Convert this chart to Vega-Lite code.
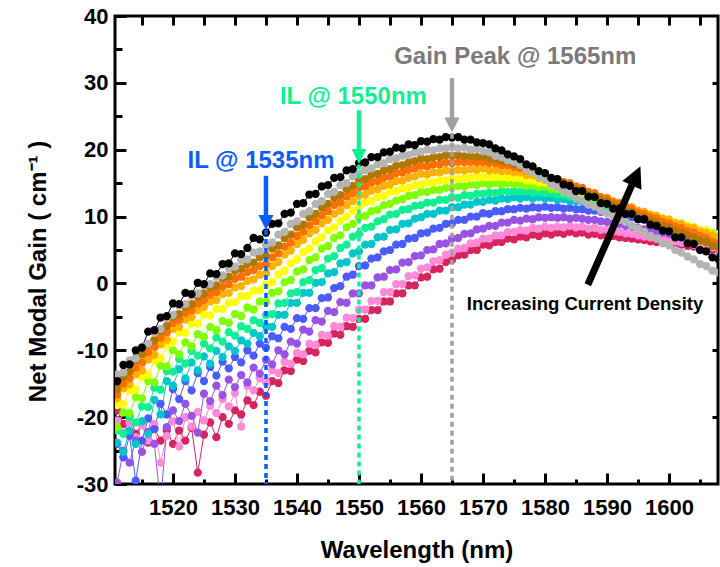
{
"$schema": "https://vega.github.io/schema/vega-lite/v6.json",
"width": 603, "height": 468,
"autosize": {"type": "none"},
"padding": {"left": 115, "top": 16, "right": 2, "bottom": 83},
"background": "white",
"config": {"view": {"stroke": "#000", "strokeWidth": 3}, "axis": {"grid": false, "domain": false}},
"data": {"values": [
{"s":0,"x":1511,"y":-19.0},{"s":0,"x":1512,"y":-21.0},{"s":0,"x":1513,"y":-19.8},{"s":0,"x":1514,"y":-22.5},{"s":0,"x":1515,"y":-21.0},{"s":0,"x":1516,"y":-23.8},{"s":0,"x":1517,"y":-21.6},{"s":0,"x":1518,"y":-23.5},{"s":0,"x":1519,"y":-22.0},{"s":0,"x":1520,"y":-24.0},
{"s":0,"x":1521,"y":-22.0},{"s":0,"x":1522,"y":-23.5},{"s":0,"x":1523,"y":-21.6},{"s":0,"x":1524,"y":-28.3},{"s":0,"x":1525,"y":-22.6},{"s":0,"x":1526,"y":-20.8},{"s":0,"x":1527,"y":-23.0},{"s":0,"x":1528,"y":-20.0},{"s":0,"x":1529,"y":-21.0},{"s":0,"x":1530,"y":-19.0},
{"s":0,"x":1531,"y":-19.6},{"s":0,"x":1532,"y":-17.5},{"s":0,"x":1533,"y":-18.2},{"s":0,"x":1534,"y":-16.2},{"s":0,"x":1535,"y":-16.8},{"s":0,"x":1536,"y":-14.6},{"s":0,"x":1537,"y":-14.9},{"s":0,"x":1538,"y":-13.0},{"s":0,"x":1539,"y":-13.1},{"s":0,"x":1540,"y":-11.4},
{"s":0,"x":1541,"y":-11.6},{"s":0,"x":1542,"y":-10.1},{"s":0,"x":1543,"y":-10.3},{"s":0,"x":1544,"y":-8.8},{"s":0,"x":1545,"y":-8.9},{"s":0,"x":1546,"y":-7.5},{"s":0,"x":1547,"y":-7.7},{"s":0,"x":1548,"y":-6.4},{"s":0,"x":1549,"y":-6.5},{"s":0,"x":1550,"y":-5.3},
{"s":0,"x":1551,"y":-5.3},{"s":0,"x":1552,"y":-4.0},{"s":0,"x":1553,"y":-4.0},{"s":0,"x":1554,"y":-2.7},{"s":0,"x":1555,"y":-2.7},{"s":0,"x":1556,"y":-1.5},{"s":0,"x":1557,"y":-1.5},{"s":0,"x":1558,"y":-0.3},{"s":0,"x":1559,"y":-0.3},{"s":0,"x":1560,"y":0.9},
{"s":0,"x":1561,"y":1.0},{"s":0,"x":1562,"y":2.1},{"s":0,"x":1563,"y":2.2},{"s":0,"x":1564,"y":3.2},{"s":0,"x":1565,"y":3.5},{"s":0,"x":1566,"y":4.2},{"s":0,"x":1567,"y":4.3},{"s":0,"x":1568,"y":5.0},{"s":0,"x":1569,"y":5.0},{"s":0,"x":1570,"y":5.8},
{"s":0,"x":1571,"y":5.7},{"s":0,"x":1572,"y":6.2},{"s":0,"x":1573,"y":6.2},{"s":0,"x":1574,"y":6.7},{"s":0,"x":1575,"y":6.6},{"s":0,"x":1576,"y":7.0},{"s":0,"x":1577,"y":6.9},{"s":0,"x":1578,"y":7.3},{"s":0,"x":1579,"y":7.1},{"s":0,"x":1580,"y":7.5},
{"s":0,"x":1581,"y":7.3},{"s":0,"x":1582,"y":7.6},{"s":0,"x":1583,"y":7.4},{"s":0,"x":1584,"y":7.7},{"s":0,"x":1585,"y":7.5},{"s":0,"x":1586,"y":7.6},{"s":0,"x":1587,"y":7.3},{"s":0,"x":1588,"y":7.4},{"s":0,"x":1589,"y":7.2},{"s":0,"x":1590,"y":7.2},
{"s":0,"x":1591,"y":7.1},{"s":0,"x":1592,"y":6.9},{"s":0,"x":1593,"y":6.8},{"s":0,"x":1594,"y":6.7},{"s":0,"x":1595,"y":6.6},{"s":0,"x":1596,"y":6.5},{"s":0,"x":1597,"y":6.3},{"s":0,"x":1598,"y":6.2},{"s":0,"x":1599,"y":6.1},{"s":0,"x":1600,"y":6.0},
{"s":0,"x":1601,"y":5.9},{"s":0,"x":1602,"y":5.8},{"s":0,"x":1603,"y":5.6},{"s":0,"x":1604,"y":5.5},{"s":0,"x":1605,"y":5.4},{"s":0,"x":1606,"y":5.3},{"s":0,"x":1607,"y":5.1},{"s":0,"x":1608,"y":5.0},
{"s":1,"x":1511,"y":-20.5},{"s":1,"x":1512,"y":-22.3},{"s":1,"x":1513,"y":-20.8},{"s":1,"x":1514,"y":-23.0},{"s":1,"x":1515,"y":-21.2},{"s":1,"x":1516,"y":-23.5},{"s":1,"x":1517,"y":-21.0},{"s":1,"x":1518,"y":-26.8},{"s":1,"x":1519,"y":-22.8},{"s":1,"x":1520,"y":-20.6},
{"s":1,"x":1521,"y":-24.4},{"s":1,"x":1522,"y":-20.0},{"s":1,"x":1523,"y":-21.4},{"s":1,"x":1524,"y":-19.2},{"s":1,"x":1525,"y":-20.5},{"s":1,"x":1526,"y":-18.3},{"s":1,"x":1527,"y":-19.4},{"s":1,"x":1528,"y":-17.3},{"s":1,"x":1529,"y":-18.4},{"s":1,"x":1530,"y":-16.4},
{"s":1,"x":1531,"y":-21.4},{"s":1,"x":1532,"y":-15.3},{"s":1,"x":1533,"y":-16.0},{"s":1,"x":1534,"y":-14.2},{"s":1,"x":1535,"y":-14.8},{"s":1,"x":1536,"y":-13.0},{"s":1,"x":1537,"y":-13.4},{"s":1,"x":1538,"y":-11.7},{"s":1,"x":1539,"y":-12.0},{"s":1,"x":1540,"y":-10.4},
{"s":1,"x":1541,"y":-10.6},{"s":1,"x":1542,"y":-9.0},{"s":1,"x":1543,"y":-9.2},{"s":1,"x":1544,"y":-7.7},{"s":1,"x":1545,"y":-7.8},{"s":1,"x":1546,"y":-6.4},{"s":1,"x":1547,"y":-6.5},{"s":1,"x":1548,"y":-5.1},{"s":1,"x":1549,"y":-5.2},{"s":1,"x":1550,"y":-3.9},
{"s":1,"x":1551,"y":-3.9},{"s":1,"x":1552,"y":-2.6},{"s":1,"x":1553,"y":-2.6},{"s":1,"x":1554,"y":-1.3},{"s":1,"x":1555,"y":-1.3},{"s":1,"x":1556,"y":-0.1},{"s":1,"x":1557,"y":-0.1},{"s":1,"x":1558,"y":1.1},{"s":1,"x":1559,"y":1.2},{"s":1,"x":1560,"y":2.2},
{"s":1,"x":1561,"y":2.4},{"s":1,"x":1562,"y":3.3},{"s":1,"x":1563,"y":3.5},{"s":1,"x":1564,"y":4.3},{"s":1,"x":1565,"y":4.6},{"s":1,"x":1566,"y":5.2},{"s":1,"x":1567,"y":5.3},{"s":1,"x":1568,"y":6.0},{"s":1,"x":1569,"y":6.1},{"s":1,"x":1570,"y":6.7},
{"s":1,"x":1571,"y":6.7},{"s":1,"x":1572,"y":7.2},{"s":1,"x":1573,"y":7.2},{"s":1,"x":1574,"y":7.7},{"s":1,"x":1575,"y":7.7},{"s":1,"x":1576,"y":8.0},{"s":1,"x":1577,"y":7.9},{"s":1,"x":1578,"y":8.3},{"s":1,"x":1579,"y":8.2},{"s":1,"x":1580,"y":8.5},
{"s":1,"x":1581,"y":8.3},{"s":1,"x":1582,"y":8.5},{"s":1,"x":1583,"y":8.4},{"s":1,"x":1584,"y":8.6},{"s":1,"x":1585,"y":8.4},{"s":1,"x":1586,"y":8.5},{"s":1,"x":1587,"y":8.2},{"s":1,"x":1588,"y":8.3},{"s":1,"x":1589,"y":8.0},{"s":1,"x":1590,"y":8.1},
{"s":1,"x":1591,"y":7.8},{"s":1,"x":1592,"y":7.7},{"s":1,"x":1593,"y":7.5},{"s":1,"x":1594,"y":7.4},{"s":1,"x":1595,"y":7.2},{"s":1,"x":1596,"y":7.0},{"s":1,"x":1597,"y":6.9},{"s":1,"x":1598,"y":6.7},{"s":1,"x":1599,"y":6.6},{"s":1,"x":1600,"y":6.4},
{"s":1,"x":1601,"y":6.3},{"s":1,"x":1602,"y":6.1},{"s":1,"x":1603,"y":6.0},{"s":1,"x":1604,"y":5.8},{"s":1,"x":1605,"y":5.7},{"s":1,"x":1606,"y":5.5},{"s":1,"x":1607,"y":5.4},{"s":1,"x":1608,"y":5.2},
{"s":2,"x":1511,"y":-29.8},{"s":2,"x":1512,"y":-25.0},{"s":2,"x":1513,"y":-26.8},{"s":2,"x":1514,"y":-23.5},{"s":2,"x":1515,"y":-25.2},{"s":2,"x":1516,"y":-22.2},{"s":2,"x":1517,"y":-24.0},{"s":2,"x":1518,"y":-33.0},{"s":2,"x":1519,"y":-21.5},{"s":2,"x":1520,"y":-19.0},
{"s":2,"x":1521,"y":-20.6},{"s":2,"x":1522,"y":-18.0},{"s":2,"x":1523,"y":-19.8},{"s":2,"x":1524,"y":-22.3},{"s":2,"x":1525,"y":-16.5},{"s":2,"x":1526,"y":-17.6},{"s":2,"x":1527,"y":-15.3},{"s":2,"x":1528,"y":-16.7},{"s":2,"x":1529,"y":-14.4},{"s":2,"x":1530,"y":-15.5},
{"s":2,"x":1531,"y":-13.7},{"s":2,"x":1532,"y":-14.8},{"s":2,"x":1533,"y":-12.6},{"s":2,"x":1534,"y":-13.5},{"s":2,"x":1535,"y":-11.4},{"s":2,"x":1536,"y":-12.1},{"s":2,"x":1537,"y":-10.0},{"s":2,"x":1538,"y":-10.6},{"s":2,"x":1539,"y":-8.7},{"s":2,"x":1540,"y":-9.0},
{"s":2,"x":1541,"y":-6.9},{"s":2,"x":1542,"y":-7.2},{"s":2,"x":1543,"y":-5.5},{"s":2,"x":1544,"y":-5.7},{"s":2,"x":1545,"y":-4.1},{"s":2,"x":1546,"y":-4.3},{"s":2,"x":1547,"y":-2.8},{"s":2,"x":1548,"y":-2.9},{"s":2,"x":1549,"y":-1.5},{"s":2,"x":1550,"y":-1.5},
{"s":2,"x":1551,"y":-0.3},{"s":2,"x":1552,"y":-0.3},{"s":2,"x":1553,"y":0.9},{"s":2,"x":1554,"y":1.0},{"s":2,"x":1555,"y":2.0},{"s":2,"x":1556,"y":2.1},{"s":2,"x":1557,"y":3.1},{"s":2,"x":1558,"y":3.2},{"s":2,"x":1559,"y":4.1},{"s":2,"x":1560,"y":4.2},
{"s":2,"x":1561,"y":5.0},{"s":2,"x":1562,"y":5.1},{"s":2,"x":1563,"y":5.9},{"s":2,"x":1564,"y":6.0},{"s":2,"x":1565,"y":6.7},{"s":2,"x":1566,"y":6.8},{"s":2,"x":1567,"y":7.4},{"s":2,"x":1568,"y":7.5},{"s":2,"x":1569,"y":8.1},{"s":2,"x":1570,"y":8.2},
{"s":2,"x":1571,"y":8.6},{"s":2,"x":1572,"y":8.6},{"s":2,"x":1573,"y":9.1},{"s":2,"x":1574,"y":9.1},{"s":2,"x":1575,"y":9.5},{"s":2,"x":1576,"y":9.4},{"s":2,"x":1577,"y":9.7},{"s":2,"x":1578,"y":9.6},{"s":2,"x":1579,"y":9.9},{"s":2,"x":1580,"y":9.8},
{"s":2,"x":1581,"y":9.9},{"s":2,"x":1582,"y":9.8},{"s":2,"x":1583,"y":9.9},{"s":2,"x":1584,"y":9.7},{"s":2,"x":1585,"y":9.8},{"s":2,"x":1586,"y":9.7},{"s":2,"x":1587,"y":9.5},{"s":2,"x":1588,"y":9.5},{"s":2,"x":1589,"y":9.3},{"s":2,"x":1590,"y":9.2},
{"s":2,"x":1591,"y":9.0},{"s":2,"x":1592,"y":8.9},{"s":2,"x":1593,"y":8.6},{"s":2,"x":1594,"y":8.5},{"s":2,"x":1595,"y":8.3},{"s":2,"x":1596,"y":8.1},{"s":2,"x":1597,"y":7.9},{"s":2,"x":1598,"y":7.8},{"s":2,"x":1599,"y":7.6},{"s":2,"x":1600,"y":7.4},
{"s":2,"x":1601,"y":7.2},{"s":2,"x":1602,"y":7.1},{"s":2,"x":1603,"y":6.9},{"s":2,"x":1604,"y":6.8},{"s":2,"x":1605,"y":6.6},{"s":2,"x":1606,"y":6.4},{"s":2,"x":1607,"y":6.3},{"s":2,"x":1608,"y":6.1},
{"s":3,"x":1511,"y":-24.0},{"s":3,"x":1512,"y":-26.0},{"s":3,"x":1513,"y":-22.8},{"s":3,"x":1514,"y":-29.5},{"s":3,"x":1515,"y":-23.5},{"s":3,"x":1516,"y":-20.2},{"s":3,"x":1517,"y":-21.8},{"s":3,"x":1518,"y":-18.0},{"s":3,"x":1519,"y":-19.6},{"s":3,"x":1520,"y":-15.8},
{"s":3,"x":1521,"y":-17.3},{"s":3,"x":1522,"y":-14.6},{"s":3,"x":1523,"y":-16.0},{"s":3,"x":1524,"y":-13.4},{"s":3,"x":1525,"y":-14.6},{"s":3,"x":1526,"y":-12.5},{"s":3,"x":1527,"y":-13.8},{"s":3,"x":1528,"y":-11.7},{"s":3,"x":1529,"y":-12.7},{"s":3,"x":1530,"y":-11.0},
{"s":3,"x":1531,"y":-11.8},{"s":3,"x":1532,"y":-10.0},{"s":3,"x":1533,"y":-10.8},{"s":3,"x":1534,"y":-9.0},{"s":3,"x":1535,"y":-9.6},{"s":3,"x":1536,"y":-7.9},{"s":3,"x":1537,"y":-8.2},{"s":3,"x":1538,"y":-6.5},{"s":3,"x":1539,"y":-6.8},{"s":3,"x":1540,"y":-5.2},
{"s":3,"x":1541,"y":-5.3},{"s":3,"x":1542,"y":-3.7},{"s":3,"x":1543,"y":-3.7},{"s":3,"x":1544,"y":-2.2},{"s":3,"x":1545,"y":-2.1},{"s":3,"x":1546,"y":-0.7},{"s":3,"x":1547,"y":-0.4},{"s":3,"x":1548,"y":1.0},{"s":3,"x":1549,"y":1.3},{"s":3,"x":1550,"y":2.6},
{"s":3,"x":1551,"y":2.7},{"s":3,"x":1552,"y":3.7},{"s":3,"x":1553,"y":3.9},{"s":3,"x":1554,"y":4.8},{"s":3,"x":1555,"y":5.0},{"s":3,"x":1556,"y":5.8},{"s":3,"x":1557,"y":5.9},{"s":3,"x":1558,"y":6.7},{"s":3,"x":1559,"y":6.8},{"s":3,"x":1560,"y":7.5},
{"s":3,"x":1561,"y":7.6},{"s":3,"x":1562,"y":8.2},{"s":3,"x":1563,"y":8.3},{"s":3,"x":1564,"y":8.9},{"s":3,"x":1565,"y":9.0},{"s":3,"x":1566,"y":9.5},{"s":3,"x":1567,"y":9.5},{"s":3,"x":1568,"y":10.0},{"s":3,"x":1569,"y":10.0},{"s":3,"x":1570,"y":10.5},
{"s":3,"x":1571,"y":10.4},{"s":3,"x":1572,"y":10.8},{"s":3,"x":1573,"y":10.8},{"s":3,"x":1574,"y":11.1},{"s":3,"x":1575,"y":11.1},{"s":3,"x":1576,"y":11.3},{"s":3,"x":1577,"y":11.2},{"s":3,"x":1578,"y":11.4},{"s":3,"x":1579,"y":11.3},{"s":3,"x":1580,"y":11.5},
{"s":3,"x":1581,"y":11.3},{"s":3,"x":1582,"y":11.4},{"s":3,"x":1583,"y":11.2},{"s":3,"x":1584,"y":11.3},{"s":3,"x":1585,"y":11.1},{"s":3,"x":1586,"y":11.1},{"s":3,"x":1587,"y":10.9},{"s":3,"x":1588,"y":10.9},{"s":3,"x":1589,"y":10.7},{"s":3,"x":1590,"y":10.6},
{"s":3,"x":1591,"y":10.4},{"s":3,"x":1592,"y":10.3},{"s":3,"x":1593,"y":10.0},{"s":3,"x":1594,"y":9.9},{"s":3,"x":1595,"y":9.7},{"s":3,"x":1596,"y":9.5},{"s":3,"x":1597,"y":9.3},{"s":3,"x":1598,"y":9.1},{"s":3,"x":1599,"y":8.9},{"s":3,"x":1600,"y":8.7},
{"s":3,"x":1601,"y":8.5},{"s":3,"x":1602,"y":8.3},{"s":3,"x":1603,"y":8.1},{"s":3,"x":1604,"y":7.9},{"s":3,"x":1605,"y":7.7},{"s":3,"x":1606,"y":7.5},{"s":3,"x":1607,"y":7.3},{"s":3,"x":1608,"y":7.1},
{"s":4,"x":1511,"y":-23.8},{"s":4,"x":1512,"y":-25.2},{"s":4,"x":1513,"y":-22.0},{"s":4,"x":1514,"y":-24.0},{"s":4,"x":1515,"y":-20.6},{"s":4,"x":1516,"y":-22.5},{"s":4,"x":1517,"y":-17.4},{"s":4,"x":1518,"y":-19.6},{"s":4,"x":1519,"y":-14.6},{"s":4,"x":1520,"y":-15.3},
{"s":4,"x":1521,"y":-12.8},{"s":4,"x":1522,"y":-14.2},{"s":4,"x":1523,"y":-11.8},{"s":4,"x":1524,"y":-13.0},{"s":4,"x":1525,"y":-10.9},{"s":4,"x":1526,"y":-12.0},{"s":4,"x":1527,"y":-10.1},{"s":4,"x":1528,"y":-11.0},{"s":4,"x":1529,"y":-9.4},{"s":4,"x":1530,"y":-10.1},
{"s":4,"x":1531,"y":-8.5},{"s":4,"x":1532,"y":-9.0},{"s":4,"x":1533,"y":-7.4},{"s":4,"x":1534,"y":-7.9},{"s":4,"x":1535,"y":-6.4},{"s":4,"x":1536,"y":-6.5},{"s":4,"x":1537,"y":-4.7},{"s":4,"x":1538,"y":-4.7},{"s":4,"x":1539,"y":-2.9},{"s":4,"x":1540,"y":-2.9},
{"s":4,"x":1541,"y":-1.4},{"s":4,"x":1542,"y":-1.4},{"s":4,"x":1543,"y":0.1},{"s":4,"x":1544,"y":0.2},{"s":4,"x":1545,"y":1.5},{"s":4,"x":1546,"y":1.7},{"s":4,"x":1547,"y":3.0},{"s":4,"x":1548,"y":3.2},{"s":4,"x":1549,"y":4.5},{"s":4,"x":1550,"y":4.8},
{"s":4,"x":1551,"y":5.8},{"s":4,"x":1552,"y":5.9},{"s":4,"x":1553,"y":6.9},{"s":4,"x":1554,"y":7.0},{"s":4,"x":1555,"y":8.0},{"s":4,"x":1556,"y":8.1},{"s":4,"x":1557,"y":8.9},{"s":4,"x":1558,"y":9.0},{"s":4,"x":1559,"y":9.7},{"s":4,"x":1560,"y":9.9},
{"s":4,"x":1561,"y":10.4},{"s":4,"x":1562,"y":10.4},{"s":4,"x":1563,"y":10.9},{"s":4,"x":1564,"y":10.9},{"s":4,"x":1565,"y":11.4},{"s":4,"x":1566,"y":11.4},{"s":4,"x":1567,"y":11.8},{"s":4,"x":1568,"y":11.8},{"s":4,"x":1569,"y":12.2},{"s":4,"x":1570,"y":12.2},
{"s":4,"x":1571,"y":12.5},{"s":4,"x":1572,"y":12.4},{"s":4,"x":1573,"y":12.7},{"s":4,"x":1574,"y":12.6},{"s":4,"x":1575,"y":12.9},{"s":4,"x":1576,"y":12.7},{"s":4,"x":1577,"y":12.9},{"s":4,"x":1578,"y":12.7},{"s":4,"x":1579,"y":12.9},{"s":4,"x":1580,"y":12.7},
{"s":4,"x":1581,"y":12.8},{"s":4,"x":1582,"y":12.5},{"s":4,"x":1583,"y":12.6},{"s":4,"x":1584,"y":12.3},{"s":4,"x":1585,"y":12.3},{"s":4,"x":1586,"y":12.2},{"s":4,"x":1587,"y":11.9},{"s":4,"x":1588,"y":11.9},{"s":4,"x":1589,"y":11.6},{"s":4,"x":1590,"y":11.5},
{"s":4,"x":1591,"y":11.3},{"s":4,"x":1592,"y":11.0},{"s":4,"x":1593,"y":10.9},{"s":4,"x":1594,"y":10.6},{"s":4,"x":1595,"y":10.4},{"s":4,"x":1596,"y":10.2},{"s":4,"x":1597,"y":9.9},{"s":4,"x":1598,"y":9.7},{"s":4,"x":1599,"y":9.4},{"s":4,"x":1600,"y":9.2},
{"s":4,"x":1601,"y":9.0},{"s":4,"x":1602,"y":8.7},{"s":4,"x":1603,"y":8.5},{"s":4,"x":1604,"y":8.2},{"s":4,"x":1605,"y":8.0},{"s":4,"x":1606,"y":7.8},{"s":4,"x":1607,"y":7.5},{"s":4,"x":1608,"y":7.3},
{"s":5,"x":1511,"y":-22.0},{"s":5,"x":1512,"y":-22.5},{"s":5,"x":1513,"y":-20.0},{"s":5,"x":1514,"y":-20.8},{"s":5,"x":1515,"y":-18.4},{"s":5,"x":1516,"y":-18.5},{"s":5,"x":1517,"y":-15.6},{"s":5,"x":1518,"y":-15.9},{"s":5,"x":1519,"y":-13.1},{"s":5,"x":1520,"y":-13.2},
{"s":5,"x":1521,"y":-11.3},{"s":5,"x":1522,"y":-12.0},{"s":5,"x":1523,"y":-10.1},{"s":5,"x":1524,"y":-10.8},{"s":5,"x":1525,"y":-9.0},{"s":5,"x":1526,"y":-9.7},{"s":5,"x":1527,"y":-8.1},{"s":5,"x":1528,"y":-8.7},{"s":5,"x":1529,"y":-7.3},{"s":5,"x":1530,"y":-7.8},
{"s":5,"x":1531,"y":-6.4},{"s":5,"x":1532,"y":-6.8},{"s":5,"x":1533,"y":-5.5},{"s":5,"x":1534,"y":-5.9},{"s":5,"x":1535,"y":-4.7},{"s":5,"x":1536,"y":-4.6},{"s":5,"x":1537,"y":-3.0},{"s":5,"x":1538,"y":-2.9},{"s":5,"x":1539,"y":-1.5},{"s":5,"x":1540,"y":-1.3},
{"s":5,"x":1541,"y":0.2},{"s":5,"x":1542,"y":0.5},{"s":5,"x":1543,"y":2.0},{"s":5,"x":1544,"y":2.3},{"s":5,"x":1545,"y":3.7},{"s":5,"x":1546,"y":4.1},{"s":5,"x":1547,"y":5.3},{"s":5,"x":1548,"y":5.8},{"s":5,"x":1549,"y":7.0},{"s":5,"x":1550,"y":7.4},
{"s":5,"x":1551,"y":8.3},{"s":5,"x":1552,"y":8.5},{"s":5,"x":1553,"y":9.3},{"s":5,"x":1554,"y":9.6},{"s":5,"x":1555,"y":10.3},{"s":5,"x":1556,"y":10.4},{"s":5,"x":1557,"y":11.0},{"s":5,"x":1558,"y":11.1},{"s":5,"x":1559,"y":11.6},{"s":5,"x":1560,"y":11.7},
{"s":5,"x":1561,"y":12.1},{"s":5,"x":1562,"y":12.1},{"s":5,"x":1563,"y":12.5},{"s":5,"x":1564,"y":12.5},{"s":5,"x":1565,"y":12.9},{"s":5,"x":1566,"y":12.8},{"s":5,"x":1567,"y":13.2},{"s":5,"x":1568,"y":13.1},{"s":5,"x":1569,"y":13.4},{"s":5,"x":1570,"y":13.4},
{"s":5,"x":1571,"y":13.6},{"s":5,"x":1572,"y":13.5},{"s":5,"x":1573,"y":13.8},{"s":5,"x":1574,"y":13.7},{"s":5,"x":1575,"y":13.8},{"s":5,"x":1576,"y":13.7},{"s":5,"x":1577,"y":13.8},{"s":5,"x":1578,"y":13.6},{"s":5,"x":1579,"y":13.7},{"s":5,"x":1580,"y":13.5},
{"s":5,"x":1581,"y":13.5},{"s":5,"x":1582,"y":13.3},{"s":5,"x":1583,"y":13.2},{"s":5,"x":1584,"y":13.0},{"s":5,"x":1585,"y":12.9},{"s":5,"x":1586,"y":12.7},{"s":5,"x":1587,"y":12.4},{"s":5,"x":1588,"y":12.3},{"s":5,"x":1589,"y":12.0},{"s":5,"x":1590,"y":11.8},
{"s":5,"x":1591,"y":11.5},{"s":5,"x":1592,"y":11.3},{"s":5,"x":1593,"y":11.0},{"s":5,"x":1594,"y":10.8},{"s":5,"x":1595,"y":10.5},{"s":5,"x":1596,"y":10.2},{"s":5,"x":1597,"y":10.0},{"s":5,"x":1598,"y":9.7},{"s":5,"x":1599,"y":9.5},{"s":5,"x":1600,"y":9.2},
{"s":5,"x":1601,"y":8.9},{"s":5,"x":1602,"y":8.7},{"s":5,"x":1603,"y":8.4},{"s":5,"x":1604,"y":8.2},{"s":5,"x":1605,"y":7.9},{"s":5,"x":1606,"y":7.6},{"s":5,"x":1607,"y":7.4},{"s":5,"x":1608,"y":7.1},
{"s":6,"x":1511,"y":-21.5},{"s":6,"x":1512,"y":-19.3},{"s":6,"x":1513,"y":-19.4},{"s":6,"x":1514,"y":-17.0},{"s":6,"x":1515,"y":-17.2},{"s":6,"x":1516,"y":-14.6},{"s":6,"x":1517,"y":-14.8},{"s":6,"x":1518,"y":-12.3},{"s":6,"x":1519,"y":-12.4},{"s":6,"x":1520,"y":-10.0},
{"s":6,"x":1521,"y":-10.6},{"s":6,"x":1522,"y":-8.8},{"s":6,"x":1523,"y":-9.4},{"s":6,"x":1524,"y":-7.6},{"s":6,"x":1525,"y":-8.0},{"s":6,"x":1526,"y":-6.5},{"s":6,"x":1527,"y":-7.0},{"s":6,"x":1528,"y":-5.6},{"s":6,"x":1529,"y":-5.9},{"s":6,"x":1530,"y":-4.6},
{"s":6,"x":1531,"y":-4.9},{"s":6,"x":1532,"y":-3.6},{"s":6,"x":1533,"y":-3.9},{"s":6,"x":1534,"y":-2.7},{"s":6,"x":1535,"y":-2.8},{"s":6,"x":1536,"y":-1.4},{"s":6,"x":1537,"y":-1.2},{"s":6,"x":1538,"y":0.2},{"s":6,"x":1539,"y":0.5},{"s":6,"x":1540,"y":1.8},
{"s":6,"x":1541,"y":2.1},{"s":6,"x":1542,"y":3.5},{"s":6,"x":1543,"y":3.9},{"s":6,"x":1544,"y":5.2},{"s":6,"x":1545,"y":5.6},{"s":6,"x":1546,"y":6.8},{"s":6,"x":1547,"y":7.2},{"s":6,"x":1548,"y":8.4},{"s":6,"x":1549,"y":8.9},{"s":6,"x":1550,"y":9.9},
{"s":6,"x":1551,"y":10.1},{"s":6,"x":1552,"y":10.8},{"s":6,"x":1553,"y":11.0},{"s":6,"x":1554,"y":11.7},{"s":6,"x":1555,"y":11.9},{"s":6,"x":1556,"y":12.4},{"s":6,"x":1557,"y":12.6},{"s":6,"x":1558,"y":13.1},{"s":6,"x":1559,"y":13.2},{"s":6,"x":1560,"y":13.7},
{"s":6,"x":1561,"y":13.7},{"s":6,"x":1562,"y":14.0},{"s":6,"x":1563,"y":14.0},{"s":6,"x":1564,"y":14.3},{"s":6,"x":1565,"y":14.3},{"s":6,"x":1566,"y":14.6},{"s":6,"x":1567,"y":14.5},{"s":6,"x":1568,"y":14.8},{"s":6,"x":1569,"y":14.7},{"s":6,"x":1570,"y":15.0},
{"s":6,"x":1571,"y":14.8},{"s":6,"x":1572,"y":15.0},{"s":6,"x":1573,"y":14.8},{"s":6,"x":1574,"y":15.0},{"s":6,"x":1575,"y":14.8},{"s":6,"x":1576,"y":14.9},{"s":6,"x":1577,"y":14.6},{"s":6,"x":1578,"y":14.7},{"s":6,"x":1579,"y":14.4},{"s":6,"x":1580,"y":14.5},
{"s":6,"x":1581,"y":14.1},{"s":6,"x":1582,"y":14.1},{"s":6,"x":1583,"y":13.7},{"s":6,"x":1584,"y":13.7},{"s":6,"x":1585,"y":13.3},{"s":6,"x":1586,"y":13.2},{"s":6,"x":1587,"y":12.9},{"s":6,"x":1588,"y":12.7},{"s":6,"x":1589,"y":12.4},{"s":6,"x":1590,"y":12.3},
{"s":6,"x":1591,"y":11.9},{"s":6,"x":1592,"y":11.7},{"s":6,"x":1593,"y":11.3},{"s":6,"x":1594,"y":11.1},{"s":6,"x":1595,"y":10.7},{"s":6,"x":1596,"y":10.6},{"s":6,"x":1597,"y":10.2},{"s":6,"x":1598,"y":10.0},{"s":6,"x":1599,"y":9.6},{"s":6,"x":1600,"y":9.5},
{"s":6,"x":1601,"y":9.1},{"s":6,"x":1602,"y":8.9},{"s":6,"x":1603,"y":8.6},{"s":6,"x":1604,"y":8.4},{"s":6,"x":1605,"y":8.0},{"s":6,"x":1606,"y":7.9},{"s":6,"x":1607,"y":7.5},{"s":6,"x":1608,"y":7.4},
{"s":7,"x":1511,"y":-18.2},{"s":7,"x":1512,"y":-18.0},{"s":7,"x":1513,"y":-16.0},{"s":7,"x":1514,"y":-15.9},{"s":7,"x":1515,"y":-14.0},{"s":7,"x":1516,"y":-13.7},{"s":7,"x":1517,"y":-11.6},{"s":7,"x":1518,"y":-11.2},{"s":7,"x":1519,"y":-9.3},{"s":7,"x":1520,"y":-8.7},
{"s":7,"x":1521,"y":-7.3},{"s":7,"x":1522,"y":-7.4},{"s":7,"x":1523,"y":-6.0},{"s":7,"x":1524,"y":-6.0},{"s":7,"x":1525,"y":-4.7},{"s":7,"x":1526,"y":-4.8},{"s":7,"x":1527,"y":-3.8},{"s":7,"x":1528,"y":-3.8},{"s":7,"x":1529,"y":-2.9},{"s":7,"x":1530,"y":-2.8},
{"s":7,"x":1531,"y":-1.9},{"s":7,"x":1532,"y":-1.9},{"s":7,"x":1533,"y":-1.1},{"s":7,"x":1534,"y":-1.0},{"s":7,"x":1535,"y":-0.2},{"s":7,"x":1536,"y":0.2},{"s":7,"x":1537,"y":1.4},{"s":7,"x":1538,"y":1.9},{"s":7,"x":1539,"y":3.0},{"s":7,"x":1540,"y":3.6},
{"s":7,"x":1541,"y":4.7},{"s":7,"x":1542,"y":5.2},{"s":7,"x":1543,"y":6.3},{"s":7,"x":1544,"y":6.9},{"s":7,"x":1545,"y":7.9},{"s":7,"x":1546,"y":8.4},{"s":7,"x":1547,"y":9.4},{"s":7,"x":1548,"y":10.0},{"s":7,"x":1549,"y":10.9},{"s":7,"x":1550,"y":11.5},
{"s":7,"x":1551,"y":12.1},{"s":7,"x":1552,"y":12.3},{"s":7,"x":1553,"y":12.9},{"s":7,"x":1554,"y":13.1},{"s":7,"x":1555,"y":13.7},{"s":7,"x":1556,"y":13.8},{"s":7,"x":1557,"y":14.2},{"s":7,"x":1558,"y":14.3},{"s":7,"x":1559,"y":14.7},{"s":7,"x":1560,"y":14.8},
{"s":7,"x":1561,"y":15.1},{"s":7,"x":1562,"y":15.1},{"s":7,"x":1563,"y":15.4},{"s":7,"x":1564,"y":15.4},{"s":7,"x":1565,"y":15.7},{"s":7,"x":1566,"y":15.6},{"s":7,"x":1567,"y":15.8},{"s":7,"x":1568,"y":15.8},{"s":7,"x":1569,"y":16.0},{"s":7,"x":1570,"y":15.9},
{"s":7,"x":1571,"y":16.0},{"s":7,"x":1572,"y":15.9},{"s":7,"x":1573,"y":15.9},{"s":7,"x":1574,"y":15.8},{"s":7,"x":1575,"y":15.8},{"s":7,"x":1576,"y":15.7},{"s":7,"x":1577,"y":15.4},{"s":7,"x":1578,"y":15.4},{"s":7,"x":1579,"y":15.1},{"s":7,"x":1580,"y":15.1},
{"s":7,"x":1581,"y":14.7},{"s":7,"x":1582,"y":14.6},{"s":7,"x":1583,"y":14.2},{"s":7,"x":1584,"y":14.1},{"s":7,"x":1585,"y":13.7},{"s":7,"x":1586,"y":13.6},{"s":7,"x":1587,"y":13.2},{"s":7,"x":1588,"y":13.0},{"s":7,"x":1589,"y":12.6},{"s":7,"x":1590,"y":12.5},
{"s":7,"x":1591,"y":12.0},{"s":7,"x":1592,"y":11.9},{"s":7,"x":1593,"y":11.4},{"s":7,"x":1594,"y":11.3},{"s":7,"x":1595,"y":10.8},{"s":7,"x":1596,"y":10.7},{"s":7,"x":1597,"y":10.3},{"s":7,"x":1598,"y":10.1},{"s":7,"x":1599,"y":9.7},{"s":7,"x":1600,"y":9.6},
{"s":7,"x":1601,"y":9.1},{"s":7,"x":1602,"y":9.0},{"s":7,"x":1603,"y":8.6},{"s":7,"x":1604,"y":8.4},{"s":7,"x":1605,"y":8.0},{"s":7,"x":1606,"y":7.9},{"s":7,"x":1607,"y":7.4},{"s":7,"x":1608,"y":7.3},
{"s":8,"x":1511,"y":-17.2},{"s":8,"x":1512,"y":-15.7},{"s":8,"x":1513,"y":-15.1},{"s":8,"x":1514,"y":-13.6},{"s":8,"x":1515,"y":-13.0},{"s":8,"x":1516,"y":-11.4},{"s":8,"x":1517,"y":-10.7},{"s":8,"x":1518,"y":-9.1},{"s":8,"x":1519,"y":-8.4},{"s":8,"x":1520,"y":-6.8},
{"s":8,"x":1521,"y":-6.5},{"s":8,"x":1522,"y":-5.4},{"s":8,"x":1523,"y":-5.0},{"s":8,"x":1524,"y":-4.0},{"s":8,"x":1525,"y":-3.5},{"s":8,"x":1526,"y":-2.7},{"s":8,"x":1527,"y":-2.5},{"s":8,"x":1528,"y":-1.6},{"s":8,"x":1529,"y":-1.4},{"s":8,"x":1530,"y":-0.6},
{"s":8,"x":1531,"y":-0.4},{"s":8,"x":1532,"y":0.4},{"s":8,"x":1533,"y":0.6},{"s":8,"x":1534,"y":1.3},{"s":8,"x":1535,"y":1.5},{"s":8,"x":1536,"y":2.6},{"s":8,"x":1537,"y":3.2},{"s":8,"x":1538,"y":4.3},{"s":8,"x":1539,"y":4.9},{"s":8,"x":1540,"y":5.9},
{"s":8,"x":1541,"y":6.5},{"s":8,"x":1542,"y":7.5},{"s":8,"x":1543,"y":8.0},{"s":8,"x":1544,"y":9.0},{"s":8,"x":1545,"y":9.5},{"s":8,"x":1546,"y":10.4},{"s":8,"x":1547,"y":10.9},{"s":8,"x":1548,"y":11.7},{"s":8,"x":1549,"y":12.3},{"s":8,"x":1550,"y":13.1},
{"s":8,"x":1551,"y":13.3},{"s":8,"x":1552,"y":13.9},{"s":8,"x":1553,"y":14.1},{"s":8,"x":1554,"y":14.6},{"s":8,"x":1555,"y":14.8},{"s":8,"x":1556,"y":15.3},{"s":8,"x":1557,"y":15.4},{"s":8,"x":1558,"y":15.8},{"s":8,"x":1559,"y":16.0},{"s":8,"x":1560,"y":16.4},
{"s":8,"x":1561,"y":16.3},{"s":8,"x":1562,"y":16.6},{"s":8,"x":1563,"y":16.6},{"s":8,"x":1564,"y":16.9},{"s":8,"x":1565,"y":16.8},{"s":8,"x":1566,"y":17.0},{"s":8,"x":1567,"y":16.9},{"s":8,"x":1568,"y":17.1},{"s":8,"x":1569,"y":17.0},{"s":8,"x":1570,"y":17.2},
{"s":8,"x":1571,"y":16.9},{"s":8,"x":1572,"y":17.0},{"s":8,"x":1573,"y":16.8},{"s":8,"x":1574,"y":16.8},{"s":8,"x":1575,"y":16.6},{"s":8,"x":1576,"y":16.6},{"s":8,"x":1577,"y":16.2},{"s":8,"x":1578,"y":16.2},{"s":8,"x":1579,"y":15.8},{"s":8,"x":1580,"y":15.8},
{"s":8,"x":1581,"y":15.3},{"s":8,"x":1582,"y":15.2},{"s":8,"x":1583,"y":14.8},{"s":8,"x":1584,"y":14.6},{"s":8,"x":1585,"y":14.2},{"s":8,"x":1586,"y":14.0},{"s":8,"x":1587,"y":13.6},{"s":8,"x":1588,"y":13.4},{"s":8,"x":1589,"y":12.9},{"s":8,"x":1590,"y":12.8},
{"s":8,"x":1591,"y":12.3},{"s":8,"x":1592,"y":12.1},{"s":8,"x":1593,"y":11.6},{"s":8,"x":1594,"y":11.4},{"s":8,"x":1595,"y":10.9},{"s":8,"x":1596,"y":10.7},{"s":8,"x":1597,"y":10.3},{"s":8,"x":1598,"y":10.1},{"s":8,"x":1599,"y":9.7},{"s":8,"x":1600,"y":9.5},
{"s":8,"x":1601,"y":9.0},{"s":8,"x":1602,"y":8.9},{"s":8,"x":1603,"y":8.4},{"s":8,"x":1604,"y":8.3},{"s":8,"x":1605,"y":7.8},{"s":8,"x":1606,"y":7.6},{"s":8,"x":1607,"y":7.2},{"s":8,"x":1608,"y":7.0},
{"s":9,"x":1511,"y":-16.6},{"s":9,"x":1512,"y":-15.0},{"s":9,"x":1513,"y":-14.2},{"s":9,"x":1514,"y":-12.6},{"s":9,"x":1515,"y":-11.8},{"s":9,"x":1516,"y":-10.3},{"s":9,"x":1517,"y":-9.5},{"s":9,"x":1518,"y":-8.1},{"s":9,"x":1519,"y":-7.3},{"s":9,"x":1520,"y":-5.9},
{"s":9,"x":1521,"y":-5.4},{"s":9,"x":1522,"y":-4.4},{"s":9,"x":1523,"y":-4.0},{"s":9,"x":1524,"y":-3.0},{"s":9,"x":1525,"y":-2.5},{"s":9,"x":1526,"y":-1.7},{"s":9,"x":1527,"y":-1.3},{"s":9,"x":1528,"y":-0.5},{"s":9,"x":1529,"y":-0.1},{"s":9,"x":1530,"y":0.7},
{"s":9,"x":1531,"y":1.0},{"s":9,"x":1532,"y":1.7},{"s":9,"x":1533,"y":2.0},{"s":9,"x":1534,"y":2.6},{"s":9,"x":1535,"y":2.9},{"s":9,"x":1536,"y":3.9},{"s":9,"x":1537,"y":4.5},{"s":9,"x":1538,"y":5.5},{"s":9,"x":1539,"y":6.1},{"s":9,"x":1540,"y":7.1},
{"s":9,"x":1541,"y":7.7},{"s":9,"x":1542,"y":8.7},{"s":9,"x":1543,"y":9.3},{"s":9,"x":1544,"y":10.2},{"s":9,"x":1545,"y":10.8},{"s":9,"x":1546,"y":11.7},{"s":9,"x":1547,"y":12.1},{"s":9,"x":1548,"y":13.0},{"s":9,"x":1549,"y":13.5},{"s":9,"x":1550,"y":14.3},
{"s":9,"x":1551,"y":14.5},{"s":9,"x":1552,"y":15.1},{"s":9,"x":1553,"y":15.3},{"s":9,"x":1554,"y":15.8},{"s":9,"x":1555,"y":16.0},{"s":9,"x":1556,"y":16.5},{"s":9,"x":1557,"y":16.6},{"s":9,"x":1558,"y":17.0},{"s":9,"x":1559,"y":17.2},{"s":9,"x":1560,"y":17.6},
{"s":9,"x":1561,"y":17.5},{"s":9,"x":1562,"y":17.8},{"s":9,"x":1563,"y":17.8},{"s":9,"x":1564,"y":18.1},{"s":9,"x":1565,"y":18.0},{"s":9,"x":1566,"y":18.2},{"s":9,"x":1567,"y":18.1},{"s":9,"x":1568,"y":18.2},{"s":9,"x":1569,"y":18.1},{"s":9,"x":1570,"y":18.2},
{"s":9,"x":1571,"y":18.0},{"s":9,"x":1572,"y":18.0},{"s":9,"x":1573,"y":17.7},{"s":9,"x":1574,"y":17.7},{"s":9,"x":1575,"y":17.4},{"s":9,"x":1576,"y":17.3},{"s":9,"x":1577,"y":16.9},{"s":9,"x":1578,"y":16.8},{"s":9,"x":1579,"y":16.4},{"s":9,"x":1580,"y":16.3},
{"s":9,"x":1581,"y":15.8},{"s":9,"x":1582,"y":15.6},{"s":9,"x":1583,"y":15.2},{"s":9,"x":1584,"y":15.0},{"s":9,"x":1585,"y":14.5},{"s":9,"x":1586,"y":14.3},{"s":9,"x":1587,"y":13.7},{"s":9,"x":1588,"y":13.5},{"s":9,"x":1589,"y":12.9},{"s":9,"x":1590,"y":12.7},
{"s":9,"x":1591,"y":12.1},{"s":9,"x":1592,"y":11.9},{"s":9,"x":1593,"y":11.4},{"s":9,"x":1594,"y":11.2},{"s":9,"x":1595,"y":10.6},{"s":9,"x":1596,"y":10.4},{"s":9,"x":1597,"y":9.9},{"s":9,"x":1598,"y":9.7},{"s":9,"x":1599,"y":9.2},{"s":9,"x":1600,"y":9.0},
{"s":9,"x":1601,"y":8.5},{"s":9,"x":1602,"y":8.3},{"s":9,"x":1603,"y":7.8},{"s":9,"x":1604,"y":7.6},{"s":9,"x":1605,"y":7.1},{"s":9,"x":1606,"y":6.8},{"s":9,"x":1607,"y":6.2},{"s":9,"x":1608,"y":5.9},
{"s":10,"x":1511,"y":-15.8},{"s":10,"x":1512,"y":-14.0},{"s":10,"x":1513,"y":-13.2},{"s":10,"x":1514,"y":-11.5},{"s":10,"x":1515,"y":-10.6},{"s":10,"x":1516,"y":-9.2},{"s":10,"x":1517,"y":-8.5},{"s":10,"x":1518,"y":-7.1},{"s":10,"x":1519,"y":-6.4},{"s":10,"x":1520,"y":-5.0},
{"s":10,"x":1521,"y":-4.6},{"s":10,"x":1522,"y":-3.5},{"s":10,"x":1523,"y":-3.1},{"s":10,"x":1524,"y":-2.0},{"s":10,"x":1525,"y":-1.5},{"s":10,"x":1526,"y":-0.6},{"s":10,"x":1527,"y":-0.3},{"s":10,"x":1528,"y":0.7},{"s":10,"x":1529,"y":1.0},{"s":10,"x":1530,"y":1.9},
{"s":10,"x":1531,"y":2.2},{"s":10,"x":1532,"y":2.9},{"s":10,"x":1533,"y":3.1},{"s":10,"x":1534,"y":3.9},{"s":10,"x":1535,"y":4.1},{"s":10,"x":1536,"y":5.2},{"s":10,"x":1537,"y":5.7},{"s":10,"x":1538,"y":6.8},{"s":10,"x":1539,"y":7.3},{"s":10,"x":1540,"y":8.4},
{"s":10,"x":1541,"y":8.8},{"s":10,"x":1542,"y":9.9},{"s":10,"x":1543,"y":10.4},{"s":10,"x":1544,"y":11.4},{"s":10,"x":1545,"y":11.9},{"s":10,"x":1546,"y":12.8},{"s":10,"x":1547,"y":13.2},{"s":10,"x":1548,"y":14.1},{"s":10,"x":1549,"y":14.6},{"s":10,"x":1550,"y":15.4},
{"s":10,"x":1551,"y":15.6},{"s":10,"x":1552,"y":16.2},{"s":10,"x":1553,"y":16.4},{"s":10,"x":1554,"y":16.9},{"s":10,"x":1555,"y":17.1},{"s":10,"x":1556,"y":17.6},{"s":10,"x":1557,"y":17.7},{"s":10,"x":1558,"y":18.1},{"s":10,"x":1559,"y":18.3},{"s":10,"x":1560,"y":18.7},
{"s":10,"x":1561,"y":18.6},{"s":10,"x":1562,"y":18.9},{"s":10,"x":1563,"y":18.9},{"s":10,"x":1564,"y":19.2},{"s":10,"x":1565,"y":19.1},{"s":10,"x":1566,"y":19.2},{"s":10,"x":1567,"y":19.0},{"s":10,"x":1568,"y":19.1},{"s":10,"x":1569,"y":18.9},{"s":10,"x":1570,"y":19.0},
{"s":10,"x":1571,"y":18.7},{"s":10,"x":1572,"y":18.6},{"s":10,"x":1573,"y":18.3},{"s":10,"x":1574,"y":18.2},{"s":10,"x":1575,"y":17.8},{"s":10,"x":1576,"y":17.6},{"s":10,"x":1577,"y":17.1},{"s":10,"x":1578,"y":16.9},{"s":10,"x":1579,"y":16.5},{"s":10,"x":1580,"y":16.3},
{"s":10,"x":1581,"y":15.7},{"s":10,"x":1582,"y":15.5},{"s":10,"x":1583,"y":14.9},{"s":10,"x":1584,"y":14.7},{"s":10,"x":1585,"y":14.1},{"s":10,"x":1586,"y":13.9},{"s":10,"x":1587,"y":13.3},{"s":10,"x":1588,"y":13.1},{"s":10,"x":1589,"y":12.5},{"s":10,"x":1590,"y":12.3},
{"s":10,"x":1591,"y":11.7},{"s":10,"x":1592,"y":11.5},{"s":10,"x":1593,"y":10.9},{"s":10,"x":1594,"y":10.7},{"s":10,"x":1595,"y":10.1},{"s":10,"x":1596,"y":9.9},{"s":10,"x":1597,"y":9.4},{"s":10,"x":1598,"y":9.1},{"s":10,"x":1599,"y":8.6},{"s":10,"x":1600,"y":8.4},
{"s":10,"x":1601,"y":7.9},{"s":10,"x":1602,"y":7.6},{"s":10,"x":1603,"y":7.2},{"s":10,"x":1604,"y":6.9},{"s":10,"x":1605,"y":6.4},{"s":10,"x":1606,"y":6.2},{"s":10,"x":1607,"y":5.6},{"s":10,"x":1608,"y":5.4},
{"s":11,"x":1511,"y":-13.6},{"s":11,"x":1512,"y":-13.3},{"s":11,"x":1513,"y":-11.5},{"s":11,"x":1514,"y":-11.2},{"s":11,"x":1515,"y":-9.5},{"s":11,"x":1516,"y":-9.0},{"s":11,"x":1517,"y":-7.3},{"s":11,"x":1518,"y":-6.8},{"s":11,"x":1519,"y":-5.2},{"s":11,"x":1520,"y":-4.7},
{"s":11,"x":1521,"y":-3.3},{"s":11,"x":1522,"y":-3.1},{"s":11,"x":1523,"y":-1.8},{"s":11,"x":1524,"y":-1.5},{"s":11,"x":1525,"y":-0.3},{"s":11,"x":1526,"y":-0.1},{"s":11,"x":1527,"y":1.0},{"s":11,"x":1528,"y":1.2},{"s":11,"x":1529,"y":2.3},{"s":11,"x":1530,"y":2.5},
{"s":11,"x":1531,"y":3.5},{"s":11,"x":1532,"y":3.6},{"s":11,"x":1533,"y":4.6},{"s":11,"x":1534,"y":4.8},{"s":11,"x":1535,"y":5.7},{"s":11,"x":1536,"y":6.1},{"s":11,"x":1537,"y":7.3},{"s":11,"x":1538,"y":7.7},{"s":11,"x":1539,"y":8.9},{"s":11,"x":1540,"y":9.3},
{"s":11,"x":1541,"y":10.4},{"s":11,"x":1542,"y":10.8},{"s":11,"x":1543,"y":11.9},{"s":11,"x":1544,"y":12.3},{"s":11,"x":1545,"y":13.4},{"s":11,"x":1546,"y":13.7},{"s":11,"x":1547,"y":14.7},{"s":11,"x":1548,"y":15.0},{"s":11,"x":1549,"y":16.0},{"s":11,"x":1550,"y":16.4},
{"s":11,"x":1551,"y":17.0},{"s":11,"x":1552,"y":17.2},{"s":11,"x":1553,"y":17.8},{"s":11,"x":1554,"y":18.0},{"s":11,"x":1555,"y":18.6},{"s":11,"x":1556,"y":18.7},{"s":11,"x":1557,"y":19.1},{"s":11,"x":1558,"y":19.2},{"s":11,"x":1559,"y":19.6},{"s":11,"x":1560,"y":19.7},
{"s":11,"x":1561,"y":20.0},{"s":11,"x":1562,"y":19.9},{"s":11,"x":1563,"y":20.2},{"s":11,"x":1564,"y":20.2},{"s":11,"x":1565,"y":20.4},{"s":11,"x":1566,"y":20.2},{"s":11,"x":1567,"y":20.3},{"s":11,"x":1568,"y":20.0},{"s":11,"x":1569,"y":20.1},{"s":11,"x":1570,"y":19.8},
{"s":11,"x":1571,"y":19.6},{"s":11,"x":1572,"y":19.1},{"s":11,"x":1573,"y":18.9},{"s":11,"x":1574,"y":18.4},{"s":11,"x":1575,"y":18.2},{"s":11,"x":1576,"y":17.7},{"s":11,"x":1577,"y":17.0},{"s":11,"x":1578,"y":16.6},{"s":11,"x":1579,"y":15.9},{"s":11,"x":1580,"y":15.5},
{"s":11,"x":1581,"y":14.8},{"s":11,"x":1582,"y":14.4},{"s":11,"x":1583,"y":13.8},{"s":11,"x":1584,"y":13.4},{"s":11,"x":1585,"y":12.7},{"s":11,"x":1586,"y":12.4},{"s":11,"x":1587,"y":11.8},{"s":11,"x":1588,"y":11.5},{"s":11,"x":1589,"y":10.9},{"s":11,"x":1590,"y":10.5},
{"s":11,"x":1591,"y":10.1},{"s":11,"x":1592,"y":9.5},{"s":11,"x":1593,"y":9.2},{"s":11,"x":1594,"y":8.6},{"s":11,"x":1595,"y":8.2},{"s":11,"x":1596,"y":7.7},{"s":11,"x":1597,"y":7.1},{"s":11,"x":1598,"y":6.7},{"s":11,"x":1599,"y":6.0},{"s":11,"x":1600,"y":5.7},
{"s":11,"x":1601,"y":5.0},{"s":11,"x":1602,"y":4.6},{"s":11,"x":1603,"y":4.0},{"s":11,"x":1604,"y":3.6},{"s":11,"x":1605,"y":2.9},{"s":11,"x":1606,"y":2.6},{"s":11,"x":1607,"y":1.9},{"s":11,"x":1608,"y":1.6},
{"s":12,"x":1511,"y":-14.6},{"s":12,"x":1512,"y":-12.2},{"s":12,"x":1513,"y":-12.1},{"s":12,"x":1514,"y":-10.0},{"s":12,"x":1515,"y":-9.6},{"s":12,"x":1516,"y":-7.2},{"s":12,"x":1517,"y":-7.0},{"s":12,"x":1518,"y":-5.1},{"s":12,"x":1519,"y":-4.9},{"s":12,"x":1520,"y":-3.0},
{"s":12,"x":1521,"y":-3.1},{"s":12,"x":1522,"y":-1.4},{"s":12,"x":1523,"y":-1.6},{"s":12,"x":1524,"y":0.1},{"s":12,"x":1525,"y":-0.1},{"s":12,"x":1526,"y":1.5},{"s":12,"x":1527,"y":1.4},{"s":12,"x":1528,"y":2.9},{"s":12,"x":1529,"y":3.0},{"s":12,"x":1530,"y":4.5},
{"s":12,"x":1531,"y":4.4},{"s":12,"x":1532,"y":5.3},{"s":12,"x":1533,"y":6.8},{"s":12,"x":1534,"y":6.6},{"s":12,"x":1535,"y":7.6},{"s":12,"x":1536,"y":8.9},{"s":12,"x":1537,"y":9.0},{"s":12,"x":1538,"y":10.4},{"s":12,"x":1539,"y":10.6},{"s":12,"x":1540,"y":11.9},
{"s":12,"x":1541,"y":12.0},{"s":12,"x":1542,"y":13.3},{"s":12,"x":1543,"y":13.4},{"s":12,"x":1544,"y":14.5},{"s":12,"x":1545,"y":14.7},{"s":12,"x":1546,"y":15.8},{"s":12,"x":1547,"y":15.9},{"s":12,"x":1548,"y":16.9},{"s":12,"x":1549,"y":17.1},{"s":12,"x":1550,"y":18.0},
{"s":12,"x":1551,"y":18.1},{"s":12,"x":1552,"y":18.9},{"s":12,"x":1553,"y":18.9},{"s":12,"x":1554,"y":19.6},{"s":12,"x":1555,"y":19.7},{"s":12,"x":1556,"y":20.3},{"s":12,"x":1557,"y":20.2},{"s":12,"x":1558,"y":20.8},{"s":12,"x":1559,"y":20.7},{"s":12,"x":1560,"y":21.3},
{"s":12,"x":1561,"y":21.2},{"s":12,"x":1562,"y":21.6},{"s":12,"x":1563,"y":21.5},{"s":12,"x":1564,"y":21.9},{"s":12,"x":1565,"y":21.8},{"s":12,"x":1566,"y":21.9},{"s":12,"x":1567,"y":21.5},{"s":12,"x":1568,"y":21.5},{"s":12,"x":1569,"y":21.1},{"s":12,"x":1570,"y":21.0},
{"s":12,"x":1571,"y":20.8},{"s":12,"x":1572,"y":20.2},{"s":12,"x":1573,"y":19.9},{"s":12,"x":1574,"y":19.3},{"s":12,"x":1575,"y":19.0},{"s":12,"x":1576,"y":18.6},{"s":12,"x":1577,"y":17.8},{"s":12,"x":1578,"y":17.5},{"s":12,"x":1579,"y":16.8},{"s":12,"x":1580,"y":16.5},
{"s":12,"x":1581,"y":15.8},{"s":12,"x":1582,"y":15.6},{"s":12,"x":1583,"y":14.8},{"s":12,"x":1584,"y":14.6},{"s":12,"x":1585,"y":13.8},{"s":12,"x":1586,"y":13.8},{"s":12,"x":1587,"y":13.0},{"s":12,"x":1588,"y":12.9},{"s":12,"x":1589,"y":12.0},{"s":12,"x":1590,"y":11.9},
{"s":12,"x":1591,"y":11.2},{"s":12,"x":1592,"y":11.2},{"s":12,"x":1593,"y":10.4},{"s":12,"x":1594,"y":10.4},{"s":12,"x":1595,"y":9.6},{"s":12,"x":1596,"y":9.6},{"s":12,"x":1597,"y":8.8},{"s":12,"x":1598,"y":8.6},{"s":12,"x":1599,"y":7.9},{"s":12,"x":1600,"y":7.8},
{"s":12,"x":1601,"y":6.9},{"s":12,"x":1602,"y":6.9},{"s":12,"x":1603,"y":6.0},{"s":12,"x":1604,"y":5.9},{"s":12,"x":1605,"y":5.0},{"s":12,"x":1606,"y":4.8},{"s":12,"x":1607,"y":3.9},{"s":12,"x":1608,"y":3.6}
]},
"layer": [
{
"mark": {"type": "line", "strokeWidth": 1, "clip": true},
"encoding": {
"x": {"field": "x", "type": "quantitative", "scale": {"domain": [1510.65, 1607.9], "nice": false, "zero": false},
"axis": {"orient": "bottom", "values": [1515,1520,1525,1530,1535,1540,1545,1550,1555,1560,1565,1570,1575,1580,1585,1590,1595,1600,1605],
"title": "Wavelength (nm)",
"tickSize": {"condition": {"test": "datum.value % 10 === 0", "value": -11}, "value": -5},
"tickWidth": 3, "tickColor": "#000",
"labelExpr": "datum.value % 10 === 0 ? '' + datum.value : ''",
"labelFont": "Liberation Sans", "labelFontSize": 22, "labelFontWeight": "bold", "labelColor": "#000",
"labelPadding": 41, "labelBaseline": "alphabetic", "labelFlush": false, "labelOverlap": false,
"titleFont": "Liberation Sans", "titleFontSize": 24, "titleFontWeight": "bold", "titleColor": "#000",
"titleBaseline": "alphabetic", "titleY": 73}},
"y": {"field": "y", "type": "quantitative", "scale": {"domain": [-30, 40], "nice": false, "zero": false},
"axis": {"orient": "left", "values": [-30,-25,-20,-15,-10,-5,0,5,10,15,20,25,30,35,40],
"title": "Net Modal Gain ( cm⁻¹ )",
"tickSize": {"condition": {"test": "datum.value % 10 === 0", "value": -11}, "value": -7},
"tickWidth": 3, "tickColor": "#000",
"labelExpr": "datum.value % 10 === 0 ? '' + datum.value : ''",
"labelFont": "Liberation Sans", "labelFontSize": 22, "labelFontWeight": "bold", "labelColor": "#000",
"labelPadding": 18, "labelBaseline": "middle", "labelAlign": "right", "labelFlush": false, "labelOverlap": false,
"titleFont": "Liberation Sans", "titleFontSize": 24, "titleFontWeight": "bold", "titleColor": "#000",
"titleAngle": 270, "titleBaseline": "alphabetic", "titleAlign": "center", "titleX": -70, "titleY": 255}},
"color": {"field": "s", "type": "nominal", "legend": null,
"scale": {"domain": [0,1,2,3,4,5,6,7,8,9,10,11,12], "range": ["#d6245e","#ff8ad8","#9a52e4","#4a5cff","#00c6cc","#12ee92","#80ff00","#ffff00","#ffb000","#ff7000","#b07800","#b4b4b4","#000000"]}}
}
},
{
"mark": {"type": "point", "filled": true, "size": 68, "opacity": 1, "clip": true},
"encoding": {
"x": {"field": "x", "type": "quantitative", "scale": {"domain": [1510.65, 1607.9], "nice": false, "zero": false},
"axis": {"orient": "top", "values": [1515,1520,1525,1530,1535,1540,1545,1550,1555,1560,1565,1570,1575,1580,1585,1590,1595,1600,1605], "labels": false, "title": null, "tickSize": -9, "tickWidth": 3, "tickColor": "#000"}},
"y": {"field": "y", "type": "quantitative", "scale": {"domain": [-30, 40], "nice": false, "zero": false},
"axis": {"orient": "right", "values": [-20,-10,0,10,20,30], "labels": false, "title": null, "tickSize": -6, "tickWidth": 3, "tickColor": "#000"}},
"color": {"field": "s", "type": "nominal", "legend": null}
}
},
{
"data": {"values": [{"x": 1535, "y": 8, "y2": -30}]},
"mark": {"type": "rule", "color": "#0a5cff", "strokeWidth": 3.5, "strokeDash": [5, 4]},
"encoding": {"x": {"field": "x", "type": "quantitative", "axis": null}, "y": {"field": "y", "type": "quantitative", "axis": null}, "y2": {"field": "y2"}}
},
{
"data": {"values": [{"x": 1550, "y": 17.8, "y2": -30}]},
"mark": {"type": "rule", "color": "#12ee92", "strokeWidth": 3.5, "strokeDash": [5, 4]},
"encoding": {"x": {"field": "x", "type": "quantitative", "axis": null}, "y": {"field": "y", "type": "quantitative", "axis": null}, "y2": {"field": "y2"}}
},
{
"data": {"values": [{"x": 1565, "y": 22.4, "y2": -30}]},
"mark": {"type": "rule", "color": "#a0a0a0", "strokeWidth": 3.5, "strokeDash": [5, 4]},
"encoding": {"x": {"field": "x", "type": "quantitative", "axis": null}, "y": {"field": "y", "type": "quantitative", "axis": null}, "y2": {"field": "y2"}}
},
{
"data": {"values": [{"x": 1535, "y": 16.1, "y2": 10.2}]},
"mark": {"type": "rule", "color": "#0a5cff", "strokeWidth": 4.5},
"encoding": {"x": {"field": "x", "type": "quantitative", "axis": null}, "y": {"field": "y", "type": "quantitative", "axis": null}, "y2": {"field": "y2"}}
},
{
"data": {"values": [{"x": 1535, "y": 9.1}]},
"mark": {"type": "point", "shape": "M-1,-1L1,-1L0,1Z", "size": 225, "filled": true, "opacity": 1, "color": "#0a5cff"},
"encoding": {"x": {"field": "x", "type": "quantitative", "axis": null}, "y": {"field": "y", "type": "quantitative", "axis": null}}
},
{
"data": {"values": [{"x": 1550, "y": 25.9, "y2": 19.9}]},
"mark": {"type": "rule", "color": "#12ee92", "strokeWidth": 4.5},
"encoding": {"x": {"field": "x", "type": "quantitative", "axis": null}, "y": {"field": "y", "type": "quantitative", "axis": null}, "y2": {"field": "y2"}}
},
{
"data": {"values": [{"x": 1550, "y": 19.0}]},
"mark": {"type": "point", "shape": "M-1,-1L1,-1L0,1Z", "size": 225, "filled": true, "opacity": 1, "color": "#12ee92"},
"encoding": {"x": {"field": "x", "type": "quantitative", "axis": null}, "y": {"field": "y", "type": "quantitative", "axis": null}}
},
{
"data": {"values": [{"x": 1565, "y": 30.7, "y2": 24.6}]},
"mark": {"type": "rule", "color": "#a0a0a0", "strokeWidth": 4.5},
"encoding": {"x": {"field": "x", "type": "quantitative", "axis": null}, "y": {"field": "y", "type": "quantitative", "axis": null}, "y2": {"field": "y2"}}
},
{
"data": {"values": [{"x": 1565, "y": 23.7}]},
"mark": {"type": "point", "shape": "M-1,-1L1,-1L0,1Z", "size": 225, "filled": true, "opacity": 1, "color": "#a0a0a0"},
"encoding": {"x": {"field": "x", "type": "quantitative", "axis": null}, "y": {"field": "y", "type": "quantitative", "axis": null}}
},
{
"data": {"values": [{"x": 1586.9, "y": -0.2, "x2": 1594.0, "y2": 14.7}]},
"mark": {"type": "rule", "color": "#000", "strokeWidth": 7},
"encoding": {"x": {"field": "x", "type": "quantitative", "axis": null}, "y": {"field": "y", "type": "quantitative", "axis": null}, "x2": {"field": "x2"}, "y2": {"field": "y2"}}
},
{
"data": {"values": [{"x": 1594.7, "y": 16.1}]},
"mark": {"type": "point", "shape": "M-1,1L1,1L0,-1Z", "size": 441, "filled": true, "opacity": 1, "color": "#000", "angle": 24},
"encoding": {"x": {"field": "x", "type": "quantitative", "axis": null}, "y": {"field": "y", "type": "quantitative", "axis": null}}
},
{
"data": {"values": [{"x": 1534.2, "y": 17.2, "t": "IL @ 1535nm"}]},
"mark": {"type": "text", "font": "Liberation Sans", "fontSize": 24, "fontWeight": "bold", "color": "#0a5cff", "align": "center", "baseline": "alphabetic"},
"encoding": {"x": {"field": "x", "type": "quantitative", "axis": null}, "y": {"field": "y", "type": "quantitative", "axis": null}, "text": {"field": "t"}}
},
{
"data": {"values": [{"x": 1549.1, "y": 26.9, "t": "IL @ 1550nm"}]},
"mark": {"type": "text", "font": "Liberation Sans", "fontSize": 24, "fontWeight": "bold", "color": "#12ee92", "align": "center", "baseline": "alphabetic"},
"encoding": {"x": {"field": "x", "type": "quantitative", "axis": null}, "y": {"field": "y", "type": "quantitative", "axis": null}, "text": {"field": "t"}}
},
{
"data": {"values": [{"x": 1575.2, "y": 32.75, "t": "Gain Peak @ 1565nm"}]},
"mark": {"type": "text", "font": "Liberation Sans", "fontSize": 24, "fontWeight": "bold", "color": "#7a7a7a", "align": "center", "baseline": "alphabetic"},
"encoding": {"x": {"field": "x", "type": "quantitative", "axis": null}, "y": {"field": "y", "type": "quantitative", "axis": null}, "text": {"field": "t"}}
},
{
"data": {"values": [{"x": 1586.45, "y": -3.97, "t": "Increasing Current Density"}]},
"mark": {"type": "text", "font": "Liberation Sans", "fontSize": 18.5, "fontWeight": "bold", "color": "#000", "align": "center", "baseline": "alphabetic"},
"encoding": {"x": {"field": "x", "type": "quantitative", "axis": null}, "y": {"field": "y", "type": "quantitative", "axis": null}, "text": {"field": "t"}}
}
]
}
